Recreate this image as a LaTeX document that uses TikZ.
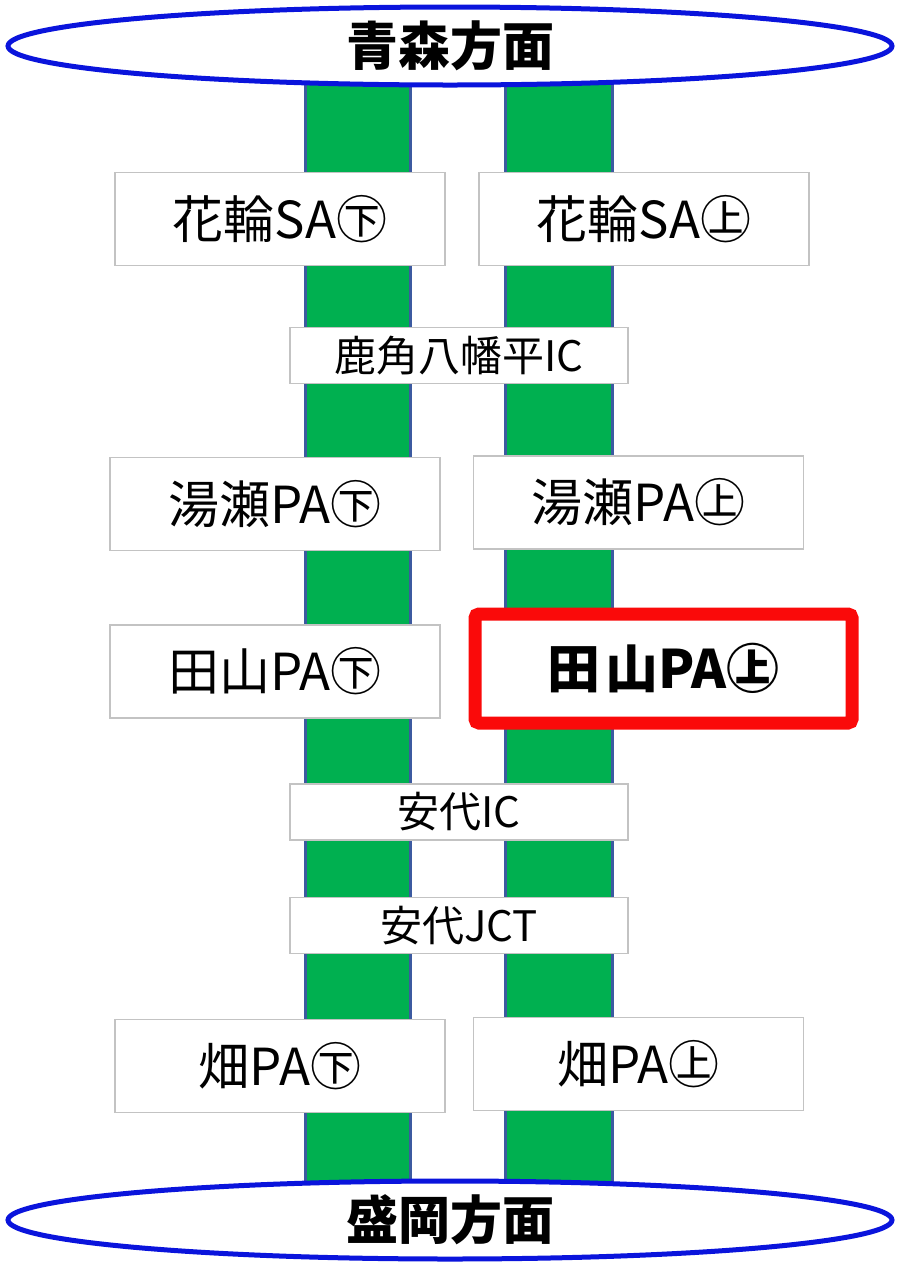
\documentclass[tikz,border=0pt]{standalone}
\usepackage{fontspec}
\setmainfont{Noto Sans CJK JP}
\usetikzlibrary{shapes.geometric}
\definecolor{roadgreen}{RGB}{0,176,80}
\definecolor{roadedge}{RGB}{60,90,160}
\definecolor{ringblue}{RGB}{10,20,220}
\definecolor{framegray}{RGB}{195,195,195}
\definecolor{hired}{RGB}{250,10,10}
\begin{document}
\begin{tikzpicture}[x=1pt,y=-1pt,
  roadway/.style={fill=roadgreen},
  roadline/.style={draw=roadedge,line width=3pt},
  stopbox/.style={draw=framegray,line width=1.5pt,fill=white,inner sep=0pt,
    minimum width=330pt,minimum height=93pt,font=\fontsize{51}{55}\selectfont},
  icbox/.style={draw=framegray,line width=1.5pt,fill=white,inner sep=0pt,
    minimum width=338pt,minimum height=56pt,font=\fontsize{42}{45}\selectfont},
  hibox/.style={draw=hired,line width=13pt,rounded corners=4pt,fill=white,inner sep=0pt,
    minimum width=377pt,minimum height=109pt,font=\bfseries\fontsize{53}{56}\selectfont},
  dest/.style={ellipse,draw=ringblue,line width=5pt,fill=white,inner sep=0pt,
    minimum width=884pt,minimum height=78pt,font=\bfseries\fontsize{52}{56}\selectfont}]
\useasboundingbox (0,0) rectangle (898,1262);
% roads
\fill[roadway] (305,80) rectangle (410,1200);
\fill[roadway] (505,80) rectangle (612,1200);
\draw[roadline] (305,80) -- (305,1200);
\draw[roadline] (410,80) -- (410,1200);
\draw[roadline] (505,80) -- (505,1200);
\draw[roadline] (612,80) -- (612,1200);
% destinations
\node[dest] (aomori) at (450,46) {青森方面};
\node[dest] (morioka) at (450,1220) {盛岡方面};
% stops
\node[stopbox] (hanawaD) at (280,219) {花輪SA㊦};
\node[stopbox] (hanawaU) at (644,219) {花輪SA㊤};
\node[icbox] (kazuno) at (459,355.5) {鹿角八幡平IC};
\node[stopbox] (yuzeD) at (275,504) {湯瀬PA㊦};
\node[stopbox] (yuzeU) at (638.5,502.5) {湯瀬PA㊤};
\node[stopbox] (tayamaD) at (275,671.5) {田山PA㊦};
\node[hibox] (tayamaU) at (663.5,668.5) {田\kern5pt 山PA㊤};
\node[icbox] (ashiro) at (459,812) {安代IC};
\node[icbox] (ashiroJ) at (459,925.5) {安代JCT};
\node[stopbox] (hataD) at (280,1066) {畑PA㊦};
\node[stopbox] (hataU) at (638.5,1064) {畑PA㊤};
\end{tikzpicture}
\end{document}
